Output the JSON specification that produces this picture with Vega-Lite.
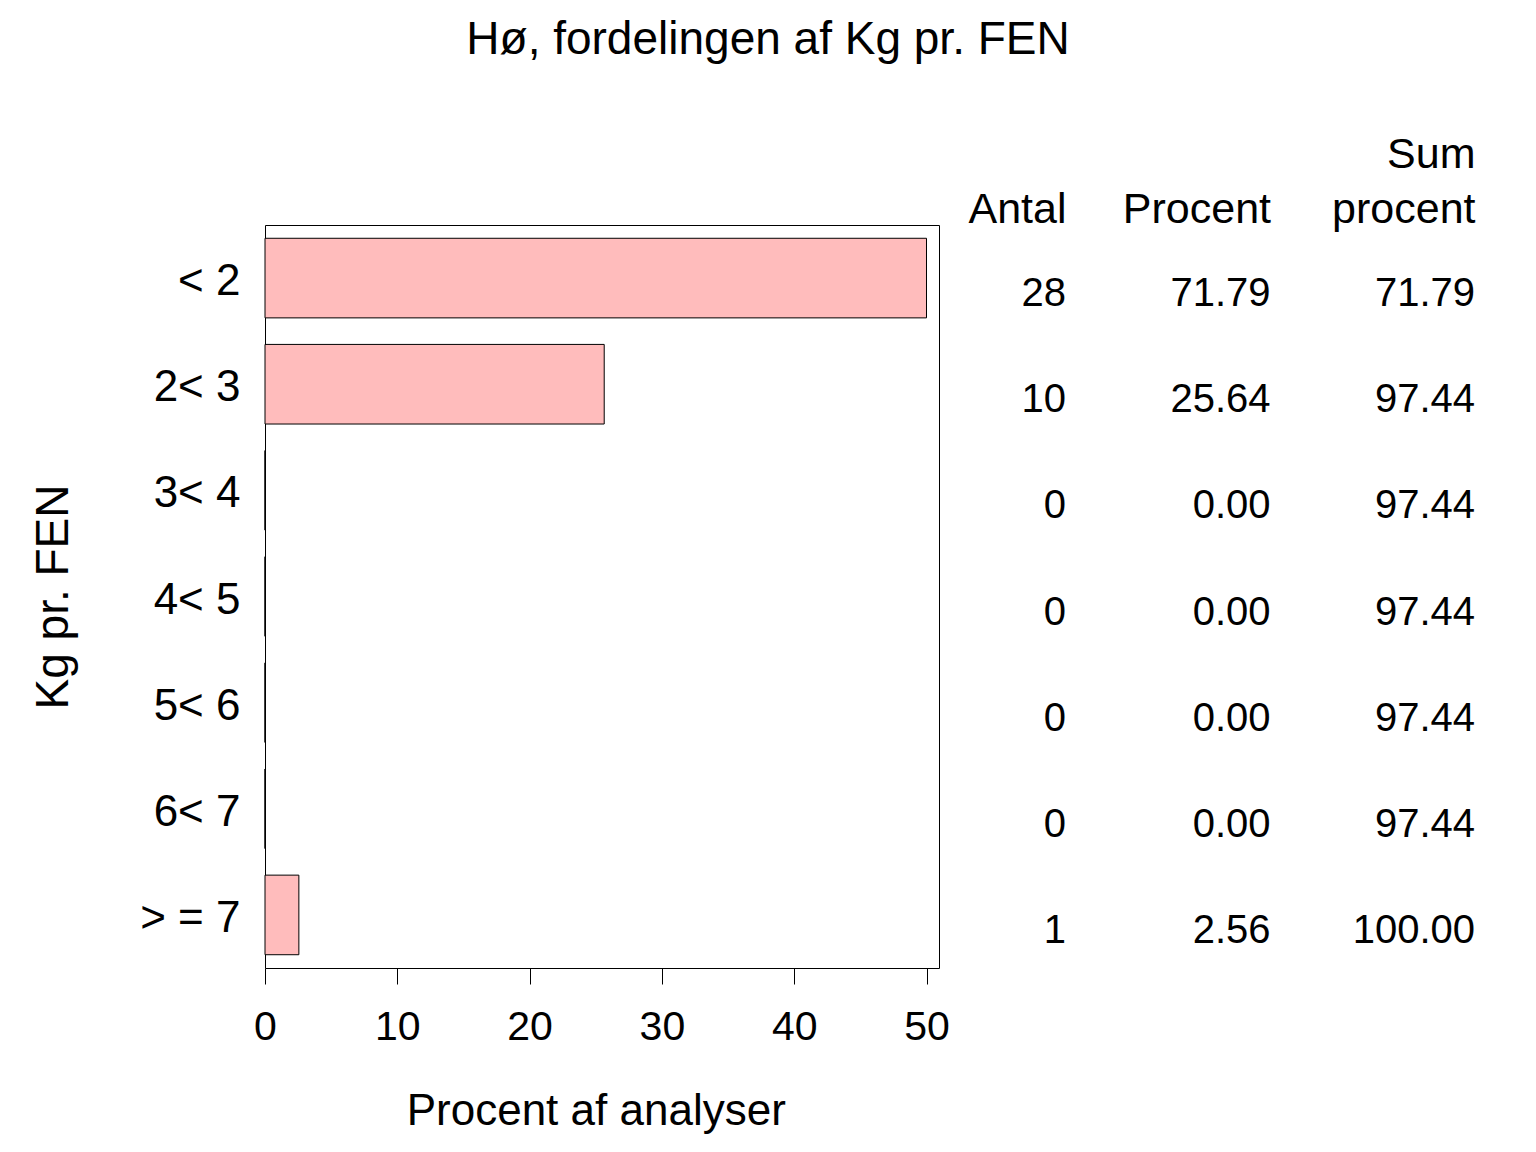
{
  "$schema": "https://vega.github.io/schema/vega-lite/v6.json",
  "autosize": "none",
  "padding": {"left": 265, "top": 225, "right": 597, "bottom": 184},
  "width": 674,
  "height": 743,
  "background": "white",
  "title": {
    "text": "Hø, fordelingen af Kg pr. FEN",
    "anchor": "middle",
    "dx": 166,
    "offset": 69,
    "font": "Liberation Sans",
    "fontSize": 46,
    "fontWeight": "normal",
    "color": "black"
  },
  "data": {
    "values": [
      {"Kg": "< 2", "Antal": 28, "Procent": 71.79, "Sum procent": 71.79},
      {"Kg": "2< 3", "Antal": 10, "Procent": 25.64, "Sum procent": 97.44},
      {"Kg": "3< 4", "Antal": 0, "Procent": 0, "Sum procent": 97.44},
      {"Kg": "4< 5", "Antal": 0, "Procent": 0, "Sum procent": 97.44},
      {"Kg": "5< 6", "Antal": 0, "Procent": 0, "Sum procent": 97.44},
      {"Kg": "6< 7", "Antal": 0, "Procent": 0, "Sum procent": 97.44},
      {"Kg": "> = 7", "Antal": 1, "Procent": 2.56, "Sum procent": 100}
    ]
  },
  "encoding": {
    "y": {
      "field": "Kg",
      "type": "nominal",
      "sort": null,
      "scale": {"paddingInner": 0.25, "paddingOuter": 0.125},
      "axis": {
        "title": "Kg pr. FEN",
        "titleFontSize": 46,
        "titlePadding": 62,
        "ticks": false,
        "domain": false,
        "labelFontSize": 44,
        "labelPadding": 25,
        "labelOffset": 4
      }
    }
  },
  "layer": [
    {
      "mark": {"type": "bar", "fill": "#ffbcbc", "stroke": "black", "strokeWidth": 1},
      "encoding": {
        "x": {
          "field": "Procent",
          "type": "quantitative",
          "scale": {"domain": [0, 50], "range": [0, 661.5], "clamp": true, "nice": false},
          "axis": {
            "title": "Procent af analyser",
            "titleFontSize": 44,
            "titlePadding": 42,
            "values": [0, 10, 20, 30, 40, 50],
            "domain": false,
            "tickSize": 16,
            "tickColor": "black",
            "labelFontSize": 41,
            "labelPadding": 23,
            "labelFlush": false
          }
        }
      }
    },
    {
      "transform": [
        {"fold": ["Antal", "Procent", "Sum procent"], "as": ["kolonne", "verdi"]}
      ],
      "mark": {"type": "text", "align": "right", "baseline": "alphabetic", "dy": 28, "fontSize": 40, "font": "Liberation Sans", "color": "black"},
      "encoding": {
        "x": {
          "field": "kolonne",
          "type": "nominal",
          "sort": null,
          "scale": {"type": "point", "domain": ["Antal", "Procent", "Sum procent"], "range": [801, 1210], "padding": 0},
          "axis": {
            "orient": "top",
            "title": null,
            "domain": false,
            "ticks": false,
            "tickSize": 0,
            "labelAngle": 0,
            "labelAlign": "right",
            "labelBaseline": "bottom",
            "labelPadding": 49,
            "labelFontSize": 43,
            "labelLineHeight": 55,
            "labelExpr": "datum.value == 'Sum procent' ? ['Sum', 'procent'] : ['', datum.value]"
          }
        },
        "text": {
          "condition": {"test": "datum.kolonne == 'Antal'", "field": "verdi", "type": "quantitative", "format": "d"},
          "field": "verdi",
          "type": "quantitative",
          "format": ".2f"
        }
      }
    }
  ],
  "resolve": {"scale": {"x": "independent"}},
  "config": {
    "view": {"stroke": "black", "strokeWidth": 1},
    "axis": {
      "grid": false,
      "labelFont": "Liberation Sans",
      "titleFont": "Liberation Sans",
      "labelColor": "black",
      "titleColor": "black",
      "titleFontWeight": "normal"
    }
  }
}
